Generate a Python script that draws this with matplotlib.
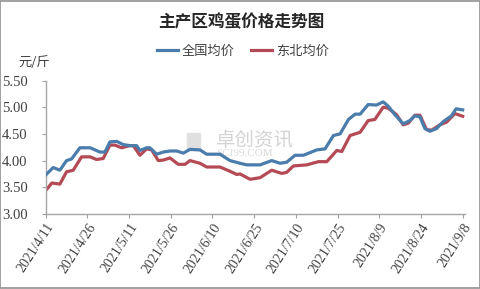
import matplotlib
matplotlib.use("Agg")
import matplotlib.pyplot as plt
from matplotlib.patches import Rectangle

plt.rcParams['font.family'] = ['Noto Sans CJK SC', 'DejaVu Sans']

title = "主产区鸡蛋价格走势图"
unit_label = "元/斤"
series_names = ["全国均价", "东北均价"]

# day offsets from 2021/4/11
nat_days = [0, 2.7, 5.1, 7.5, 9.3, 12.3, 16, 19.5, 21.3, 23.1, 25.5, 27.9, 30.3, 32.7, 33.9,
            36.3, 37.5, 39.9, 42.3, 44.7, 47.1, 49.5, 51.9, 55.5, 57.9, 62.7, 66.3, 69.9,
            72.3, 77.1, 81.3, 84.3, 86.7, 89.7, 92.7, 97.5, 100.5, 103.5, 105.9, 108.9,
            111.3, 113.1, 116, 119, 121.4, 123.2, 125.6, 128.6, 131, 132.8, 134.6, 136.4,
            138.2, 140.6, 143, 146, 147.6, 150]
nat_vals = [3.73, 3.87, 3.82, 4.00, 4.03, 4.24, 4.24, 4.16, 4.16, 4.35, 4.36, 4.30, 4.28, 4.28, 4.19,
            4.24, 4.24, 4.12, 4.16, 4.18, 4.18, 4.14, 4.21, 4.20, 4.12, 4.12, 4.00, 3.95,
            3.92, 3.92, 4.00, 3.95, 3.97, 4.10, 4.10, 4.20, 4.22, 4.47, 4.50, 4.77,
            4.87, 4.87, 5.05, 5.04, 5.10, 5.02, 4.86, 4.69, 4.75, 4.84, 4.82, 4.60,
            4.55, 4.60, 4.73, 4.84, 4.97, 4.95]

ne_days = [0, 2.2, 5.1, 7.5, 9.9, 12.9, 16, 18.3, 20.7, 23.1, 24.9, 27.3, 30.3, 31.5, 33.9,
           36.3, 38.1, 40.5, 42.3, 44.7, 47.7, 50.1, 51.9, 55.5, 57.9, 62.7, 66.3, 68.7,
           69.9, 73.5, 77.1, 81.3, 84.9, 86.7, 89.1, 93.9, 98.1, 101.1, 104.7, 106.5,
           109.5, 113.1, 116, 118.4, 121.4, 123.2, 126.2, 128.6, 130.4, 132.8, 134.6,
           137, 138.8, 141.8, 144.2, 147.2, 150]
ne_vals = [3.44, 3.58, 3.56, 3.79, 3.82, 4.07, 4.07, 4.02, 4.04, 4.29, 4.29, 4.24, 4.28, 4.28, 4.10,
           4.22, 4.20, 4.00, 4.01, 4.05, 3.93, 3.93, 4.00, 3.95, 3.88, 3.88, 3.80, 3.74,
           3.75, 3.65, 3.68, 3.82, 3.76, 3.78, 3.90, 3.92, 3.98, 3.98, 4.19, 4.17,
           4.47, 4.53, 4.75, 4.77, 5.00, 4.98, 4.86, 4.67, 4.70, 4.85, 4.85,
           4.58, 4.57, 4.67, 4.72, 4.88, 4.83]

xtick_pos = [0, 15, 30, 45, 60, 75, 90, 105, 120, 135, 150]
xtick_labels = ["2021/4/11", "2021/4/26", "2021/5/11", "2021/5/26", "2021/6/10", "2021/6/25",
                "2021/7/10", "2021/7/25", "2021/8/9", "2021/8/24", "2021/9/8"]
ytick_vals = [3.00, 3.50, 4.00, 4.50, 5.00, 5.50]

fig = plt.figure(figsize=(4.81, 2.89), dpi=100)
ax = fig.add_axes([45.7/481, 1-214/289, (465-45.7)/481, (214-80.5)/289])
ax.patch.set_alpha(0)

blue = '#4a7cac'
red = '#b44a55'
ax.plot(nat_days, nat_vals, color=blue, lw=2.3, label=series_names[0], zorder=3)
ax.plot(ne_days, ne_vals, color=red, lw=2.3, label=series_names[1], zorder=2)

ax.set_xlim(0, (465-45.7)/2.78)
ax.set_ylim(3.0, 5.5)
ax.set_xticks(xtick_pos)
ax.set_xticklabels(xtick_labels, rotation=57, ha='right', rotation_mode='anchor',
                   family=['Liberation Serif', 'DejaVu Serif'], fontsize=10, color='#404040')
ax.set_yticks(ytick_vals)
ax.set_yticklabels([f"{v:.2f}" for v in ytick_vals], family=['Liberation Serif', 'DejaVu Serif'],
                   fontsize=10.5, color='#404040')
ax.tick_params(axis='both', length=3, color='#a0a0a0', width=0.8, pad=2)
ax.tick_params(axis='y', pad=10)
for s in ['top', 'right']:
    ax.spines[s].set_visible(False)
for s in ['left', 'bottom']:
    ax.spines[s].set_color('#a6a6a6')
    ax.spines[s].set_linewidth(1.0)

fig.text(241/481, 1-22/289, title, ha='center', va='center', fontsize=12, fontweight='bold',
         color='#262626')
fig.text(34/481, 1-62/289, unit_label, ha='center', va='center', fontsize=9.5, color='#404040')

leg = fig.legend(loc='center', bbox_to_anchor=(243/481, 1-51/289), ncol=2, frameon=False,
                 fontsize=9.5, handlelength=1.6, handletextpad=0.3, columnspacing=1.2,
                 labelcolor='#404040')

# watermark (behind the axes)
fig.text(216/481, 1-140/289, "卓创资讯", ha='left', va='center', fontsize=14, color='#d4d4d4',
         zorder=-1)
fig.text(216/481, 1-154/289, "SCI99.COM", ha='left', va='center', fontsize=8, color='#dadada',
         family=['Liberation Serif'], zorder=-1)
fig.patches.append(Rectangle((187/481, 1-150/289), 13/481, 17/289, transform=fig.transFigure,
                             color='#e0e0e0', zorder=-1))

fig.patches.append(Rectangle((0.001, 0.002), 0.997, 0.995, transform=fig.transFigure,
                             fill=False, edgecolor='#909090', lw=1.2))

fig.savefig("out.png", dpi=100)
